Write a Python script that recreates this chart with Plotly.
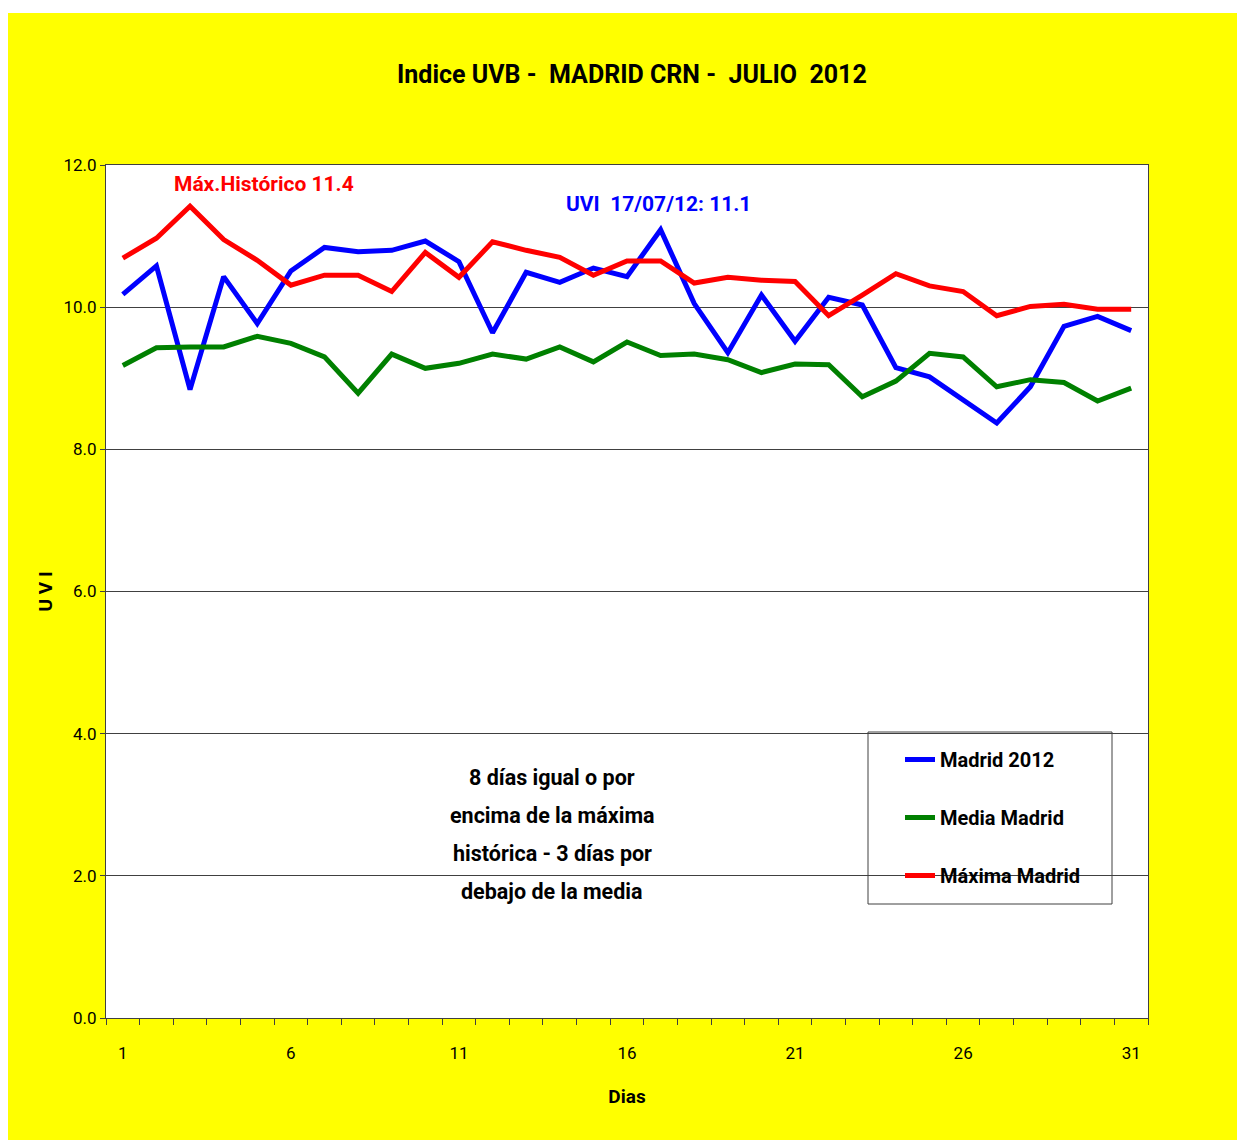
import plotly.graph_objects as go

days = list(range(1, 32))
madrid_2012 = [10.18, 10.58, 8.84, 10.43, 9.77, 10.51, 10.84, 10.78, 10.80, 10.93,
               10.64, 9.64, 10.49, 10.35, 10.55, 10.43, 11.09, 10.05, 9.36, 10.17,
               9.52, 10.14, 10.03, 9.15, 9.02, 8.69, 8.37, 8.88, 9.73, 9.87, 9.67]
media_madrid = [9.18, 9.43, 9.44, 9.44, 9.59, 9.49, 9.30, 8.79, 9.34, 9.14,
                9.21, 9.34, 9.27, 9.44, 9.23, 9.51, 9.32, 9.34, 9.26, 9.08,
                9.20, 9.19, 8.74, 8.96, 9.35, 9.30, 8.88, 8.98, 8.94, 8.68, 8.86]
maxima_madrid = [10.69, 10.97, 11.42, 10.95, 10.66, 10.31, 10.45, 10.45, 10.22, 10.77,
                 10.42, 10.92, 10.80, 10.70, 10.45, 10.65, 10.65, 10.34, 10.42, 10.38,
                 10.36, 9.88, 10.17, 10.47, 10.30, 10.22, 9.88, 10.01, 10.04, 9.97, 9.97]
series_names = ["Madrid 2012", "Media Madrid", "Máxima Madrid"]
series_colors = ["#0000FF", "#008000", "#FF0000"]
x_tick_days = [1, 6, 11, 16, 21, 26, 31]
y_ticks = [0, 2, 4, 6, 8, 10, 12]

title_text = "Indice UVB -  MADRID CRN -  JULIO  2012"
note_lines = ["8 días igual o por", "encima de la máxima", "histórica - 3 días por", "debajo de la media"]

FONT = "Roboto, Liberation Sans, sans-serif"

OFF = 8  # page body margin
W, H = 1237, 1132
L, R, T, B = 106, 1148, 165, 1018  # plot area in screen pixels
PW, PH = R - L, B - T


def px(x):
    return (x - L) / PW


def py(y):
    return (B - y) / PH


fig = go.Figure()
for name, ys, col in zip(series_names, [madrid_2012, media_madrid, maxima_madrid], series_colors):
    fig.add_trace(go.Scatter(x=days, y=ys, mode="lines", name=f"<b>{name}</b>", legendgroup=name,
                             line=dict(color=col, width=5)))

fig.update_layout(
    width=W, height=H,
    margin=dict(l=L - OFF, r=W + OFF - R, t=T - OFF, b=H + OFF - B, pad=0),
    paper_bgcolor="#FFFF00",
    plot_bgcolor="white",
    font=dict(family=FONT, color="black"),
    showlegend=True,
    legend=dict(x=px(900), y=py(740), xanchor="left", yanchor="top",
                bgcolor="rgba(0,0,0,0)", borderwidth=0,
                font=dict(family=FONT, size=20, color="black"),
                traceorder="grouped", tracegroupgap=29),
    xaxis=dict(range=[0.5, 31.5], tickmode="array", tickvals=x_tick_days,
               ticktext=[str(d) for d in x_tick_days], ticks="",
               tickfont=dict(size=17), showgrid=False, zeroline=False,
               showline=True, linecolor="#404040", linewidth=1, mirror=True,
               ticklabelstandoff=20,
               minor=dict(tickvals=[d - 0.5 for d in days] + [31.5], ticks="outside",
                          ticklen=6, tickcolor="#404040", tickwidth=1, showgrid=False),
               title=dict(text="<b>Dias</b>", font=dict(size=19), standoff=27)),
    yaxis=dict(range=[0, 12], tickmode="array", tickvals=y_ticks,
               ticktext=[f"{v:.1f}" for v in y_ticks], ticks="outside", ticklen=5,
               tickcolor="#404040", tickfont=dict(size=17),
               showgrid=True, gridcolor="#404040", gridwidth=1, zeroline=False,
               showline=True, linecolor="#404040", linewidth=1, mirror=True,
               title=dict(text="<b>U V I</b>", font=dict(size=19), standoff=5)),
)

shapes = [
    dict(type="rect", xref="paper", yref="paper", x0=px(0), x1=px(1300), y0=py(13), y1=py(0),
         fillcolor="white", line=dict(width=0), layer="above"),
    dict(type="rect", xref="paper", yref="paper", x0=px(868), x1=px(1112), y0=py(904), y1=py(732),
         fillcolor="white", line=dict(color="#404040", width=1), layer="below"),
]
fig.update_layout(shapes=shapes)

ann = [
    dict(text=f"<b>{title_text}</b>", x=px(632), y=py(75), font=dict(size=25, color="black")),
    dict(text="<b>Máx.Histórico 11.4</b>", x=px(264), y=py(184), font=dict(size=21, color="#FF0000")),
    dict(text="<b>UVI  17/07/12: 11.1</b>", x=px(658), y=py(204), font=dict(size=21, color="#0000FF")),
]
for i, line in enumerate(note_lines):
    ann.append(dict(text=f"<b>{line}</b>", x=px(552), y=py(777 + 38 * i), font=dict(size=21.5, color="black")))
for a in ann:
    a.update(xref="paper", yref="paper", xanchor="center", yanchor="middle", showarrow=False)
    a["font"]["family"] = FONT
fig.update_layout(annotations=ann)

fig.write_html("out.html", post_script="document.documentElement.style.overflow='hidden';document.body.style.overflow='hidden';")
